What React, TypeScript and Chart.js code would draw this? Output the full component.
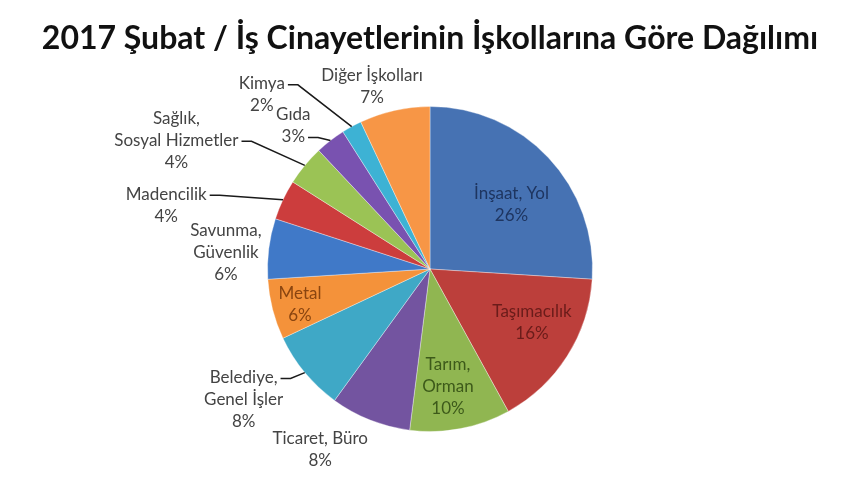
import React, { useEffect, useRef } from "react";
import { Chart, registerables } from "chart.js";

Chart.register(...registerables);

// ---------- data ----------
const titleText = "2017 Şubat / İş Cinayetlerinin İşkollarına Göre Dağılımı";

const categories: string[][] = [
  ["İnşaat, Yol"],
  ["Taşımacılık"],
  ["Tarım,", "Orman"],
  ["Ticaret, Büro"],
  ["Belediye,", "Genel İşler"],
  ["Metal"],
  ["Savunma,", "Güvenlik"],
  ["Madencilik"],
  ["Sağlık,", "Sosyal Hizmetler"],
  ["Gıda"],
  ["Kimya"],
  ["Diğer İşkolları"],
];

const shares: number[] = [26, 16, 10, 8, 8, 6, 6, 4, 4, 3, 2, 7];

const percentLabels: string[] = ["26%", "16%", "10%", "8%", "8%", "6%", "6%", "4%", "4%", "3%", "2%", "7%"];

// ---------- styles ----------
const sliceColors = [
  "#4672B3", "#BC3F3B", "#90B651", "#7354A0", "#3FA8C6", "#F4923A",
  "#4079C8", "#CC3D3D", "#9BC355", "#7952B0", "#3DB2D4", "#F79646",
];
const textColors = [
  "#1E3560", "#6A1C1A", "#3D5A1A", "#444444", "#444444", "#8A4510",
  "#444444", "#444444", "#444444", "#444444", "#444444", "#444444",
];
// label placement relative to each slice: radius factor and angular shift (deg)
const labelRadius = [0.64, 0.71, 0.73, 1.30, 1.40, 0.83, 1.26, 1.67, 1.75, 1.22, 1.49, 1.18];
const labelShift = [4.8, -4.5, 2.1, 9.7, 4.6, -1, -2.7, -11.6, -12.7, -5.8, -15.2, -5];
// which text line carries a leader line (-1: none)
const leaderLine = [-1, -1, -1, -1, 0, -1, -1, 0, 1, 1, 0, -1];

const labelFont = "17px Lato";
const labelLineHeight = 22;

const sliceLabelPlugin = {
  id: "sliceLabels",
  afterDatasetsDraw(chart: any) {
    const meta = chart.getDatasetMeta(0);
    const ctx: CanvasRenderingContext2D = chart.ctx;
    ctx.save();
    ctx.font = labelFont;
    ctx.textAlign = "center";
    ctx.textBaseline = "middle";
    meta.data.forEach((arc: any, i: number) => {
      const { x, y, startAngle, endAngle, outerRadius } = arc.getProps(
        ["x", "y", "startAngle", "endAngle", "outerRadius"],
        true
      );
      const mid = (startAngle + endAngle) / 2;
      const a = mid + (labelShift[i] * Math.PI) / 180;
      const r = outerRadius * labelRadius[i];
      const cx = x + r * Math.cos(a);
      const cy = y + r * Math.sin(a);
      const lines = [...categories[i], percentLabels[i]];
      const n = lines.length;
      ctx.fillStyle = textColors[i];
      lines.forEach((ln, k) => {
        ctx.fillText(ln, cx, cy + (k - (n - 1) / 2) * labelLineHeight);
      });
      const k = leaderLine[i];
      if (k >= 0) {
        const ly = cy + (k - (n - 1) / 2) * labelLineHeight + 1;
        const w = ctx.measureText(lines[k]).width;
        const sx = cx + w / 2 + 3;
        const ex = x + outerRadius * Math.cos(mid);
        const ey = y + outerRadius * Math.sin(mid);
        ctx.strokeStyle = "#1a1a1a";
        ctx.lineWidth = 1.5;
        ctx.beginPath();
        ctx.moveTo(sx, ly);
        ctx.lineTo(sx + 10, ly);
        ctx.lineTo(ex, ey);
        ctx.stroke();
      }
    });
    ctx.restore();
  },
};

export default function App() {
  const canvasRef = useRef<HTMLCanvasElement | null>(null);

  useEffect(() => {
    document.body.style.margin = "0";
    const canvas = canvasRef.current;
    if (!canvas) return;
    const chart = new Chart(canvas, {
      type: "pie",
      data: {
        labels: categories,
        datasets: [
          {
            data: shares,
            backgroundColor: sliceColors,
            borderColor: "rgba(255,255,255,0.35)",
            borderWidth: 1,
            hoverOffset: 0,
          },
        ],
      },
      options: {
        responsive: false,
        animation: false,
        layout: { padding: { top: 0, bottom: 48, left: 0, right: 0 } },
        plugins: {
          legend: { display: false },
          tooltip: { enabled: false },
          title: {
            display: true,
            text: titleText,
            color: "#111111",
            font: { family: "Lato", size: 32, weight: "bold", lineHeight: 1.2 },
            padding: { top: 19, bottom: 48.6 },
          },
        },
      },
      plugins: [sliceLabelPlugin],
    });
    return () => chart.destroy();
  }, []);

  return (
    <div style={{ width: 860, height: 480, background: "#ffffff" }}>
      <canvas ref={canvasRef} width={860} height={480} />
    </div>
  );
}
